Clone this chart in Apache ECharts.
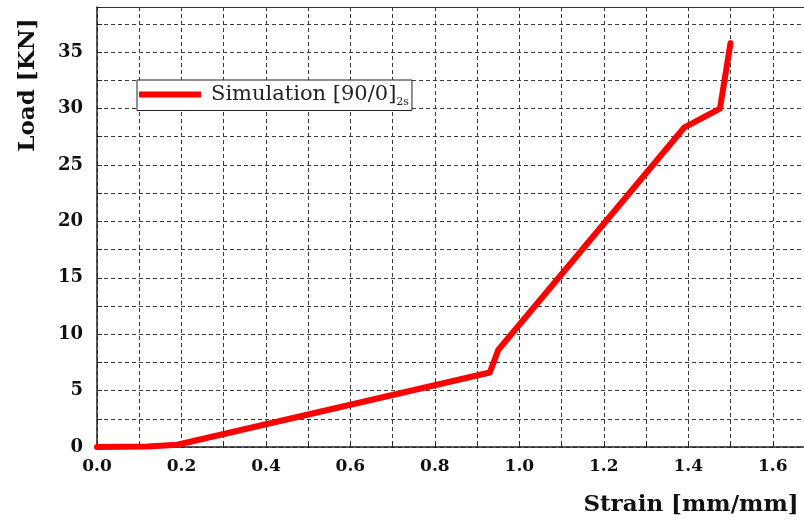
<!DOCTYPE html>
<html>
<head>
<meta charset="utf-8">
<script src="https://cdn.jsdelivr.net/npm/echarts@6/dist/echarts.min.js"></script>
<style>
  html, body { margin: 0; padding: 0; background: #fff; }
  #chart { width: 804px; height: 528px; }
</style>
</head>
<body>
<div id="chart"></div>
<script>
// Load–strain response, simulation of [90/0]2s laminate
const strain = [0.00, 0.12, 0.19, 0.93, 0.95, 1.39, 1.475, 1.50];
const load   = [0.00, 0.05, 0.20, 6.60, 8.60, 28.3, 30.0, 35.8];
const seriesName = 'Simulation [90/0]2s';
const xTitle = 'Strain [mm/mm]';
const yTitle = 'Load [KN]';

const FONT = 'DejaVu Serif';
const points = strain.map((s, i) => [s, load[i]]);

const dashed = { show: true, lineStyle: { color: '#3a3a3a', type: [4, 3], width: 1 } };

const chart = echarts.init(document.getElementById('chart'), null, { renderer: 'canvas' });
chart.setOption({
  animation: false,
  backgroundColor: '#fff',
  // plot frame runs past the right edge of the canvas
  grid: { left: 97, top: 7, bottom: 81, width: 718, outerBoundsMode: 'none' },
  xAxis: [{
    type: 'value', min: 0, max: 1.7, interval: 0.1,
    axisLine: { show: true, onZero: false, lineStyle: { color: '#222', width: 1.5 } },
    axisTick: { show: true, inside: true, length: 5, lineStyle: { color: '#222' } },
    splitLine: dashed,
    axisLabel: {
      margin: 11, color: '#111', fontFamily: FONT, fontWeight: 'bold', fontSize: 17,
      formatter: v => {
        const t = Math.round(v * 10);
        return (Math.abs(v * 10 - t) < 1e-6 && t % 2 === 0) ? (t / 10).toFixed(1) : '';
      }
    }
  }, {
    // top frame line
    type: 'value', position: 'top', min: 0, max: 1.7,
    axisLine: { show: true, onZero: false, lineStyle: { color: '#333', width: 1.2 } },
    axisTick: { show: false }, axisLabel: { show: false }, splitLine: { show: false }
  }],
  yAxis: {
    type: 'value', min: 0, max: 39, interval: 2.5,
    axisLine: { show: true, lineStyle: { color: '#222', width: 1.5 } },
    axisTick: { show: true, inside: true, length: 5, lineStyle: { color: '#222' } },
    splitLine: dashed,
    axisLabel: {
      margin: 14, color: '#111', fontFamily: FONT, fontWeight: 'bold', fontSize: 18,
      formatter: v => (v % 5 === 0 ? String(v) : '')
    }
  },
  legend: {
    left: 137, top: 80,
    icon: 'rect', itemWidth: 62, itemHeight: 6,
    padding: [4, 3, 3, 2],
    borderColor: '#222', borderWidth: 1, borderRadius: 0,
    backgroundColor: '#fff',
    data: [seriesName],
    formatter: () => '{a|Simulation [90/0]}{b|2s}',
    textStyle: {
      rich: {
        a: { fontFamily: FONT, fontSize: 21, color: '#222', lineHeight: 26, padding: [0, 0, 0, 5] },
        b: { fontFamily: FONT, fontSize: 11, color: '#222', lineHeight: 9, verticalAlign: 'bottom' }
      }
    }
  },
  graphic: [
    {
      type: 'text', x: 28, y: 85, rotation: Math.PI / 2,
      style: { text: yTitle, fill: '#111', font: `bold 23px "${FONT}"`, textAlign: 'center', textVerticalAlign: 'middle' }
    },
    {
      type: 'text', x: 691, y: 505,
      style: { text: xTitle, fill: '#111', font: `bold 23px "${FONT}"`, textAlign: 'center', textVerticalAlign: 'middle' }
    }
  ],
  series: [{
    name: seriesName,
    type: 'line',
    data: points,
    showSymbol: false,
    symbol: 'none',
    itemStyle: { color: '#ff0000' },
    lineStyle: { color: '#ff0000', width: 6, cap: 'round', join: 'round' }
  }]
});
</script>
</body>
</html>
